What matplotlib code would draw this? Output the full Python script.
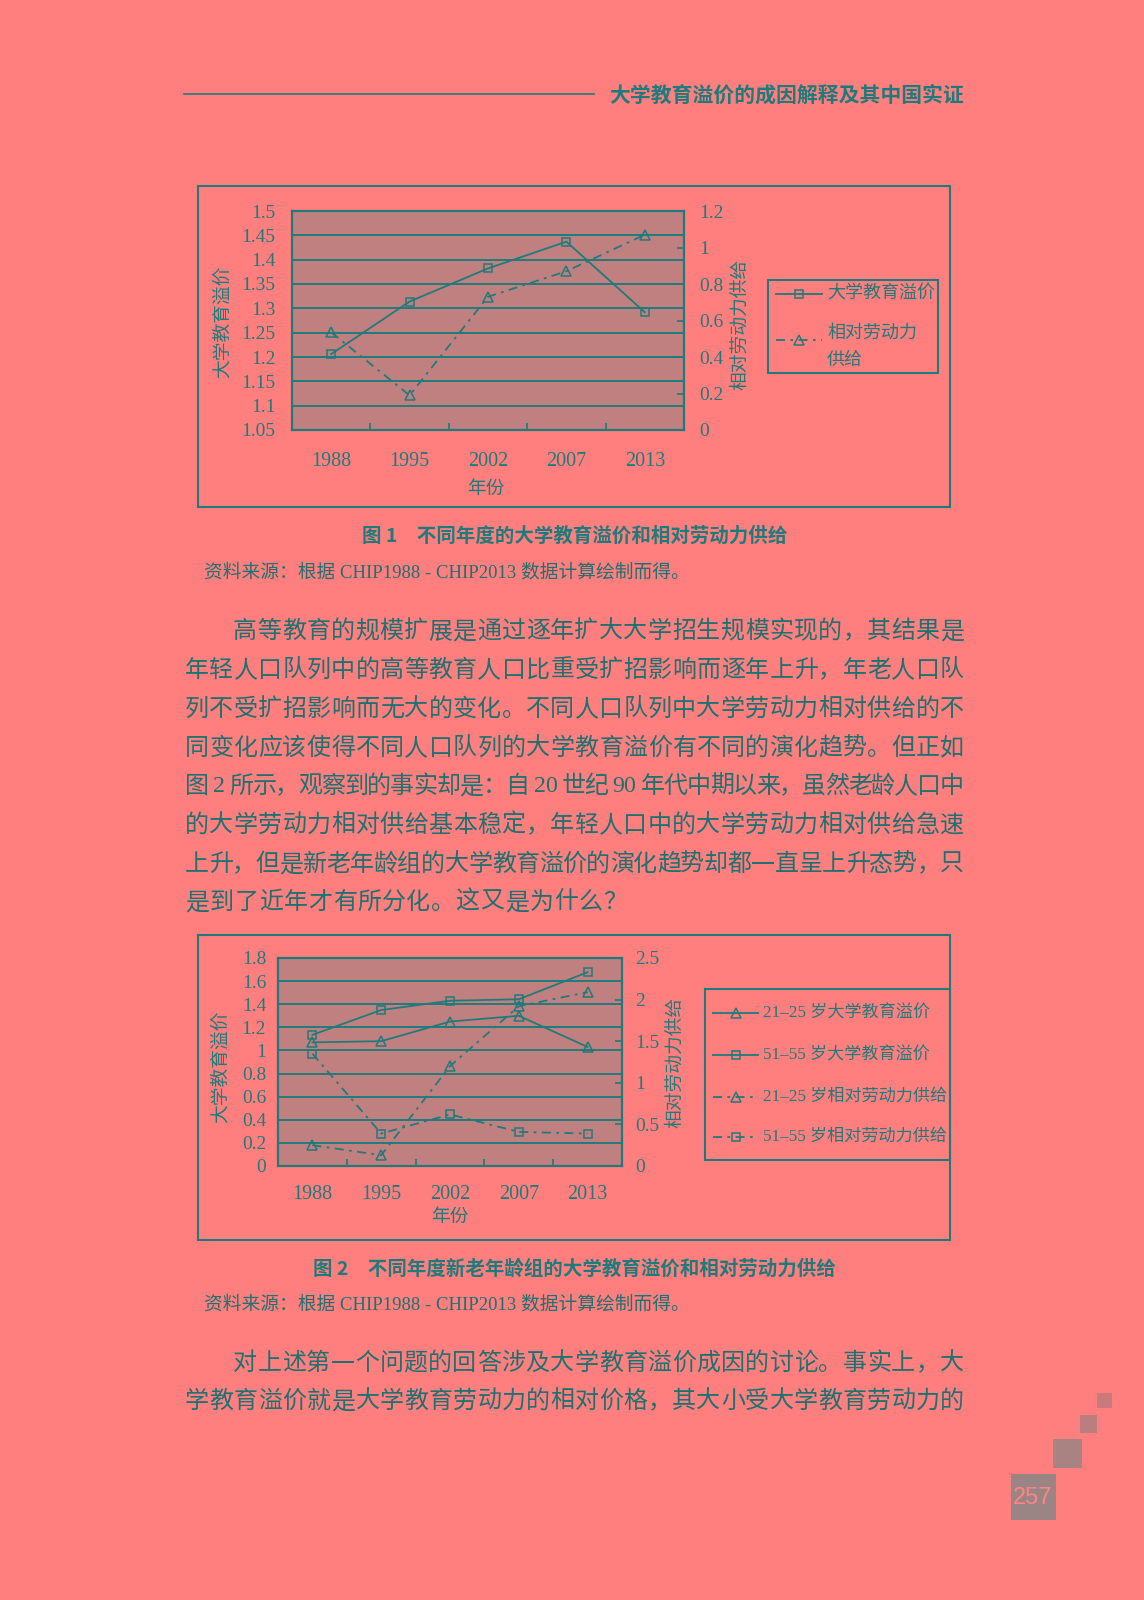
import re
import matplotlib
matplotlib.use('Agg')
import matplotlib.pyplot as plt
from matplotlib.patches import Rectangle
from matplotlib.lines import Line2D

W, H = 1144, 1600
BG = '#FF7F7F'
TEAL = '#1F7B7B'
INK = '#1E7171'
PLOTBG = '#C08080'
CJK = 'Noto Sans CJK SC'
SERIF = ['Liberation Serif', CJK]

# 数据
years = ['1988', '1995', '2002', '2007', '2013']
# 图1
premium = [1.206, 1.314, 1.382, 1.437, 1.292]
supply = [0.535, 0.19, 0.73, 0.87, 1.07]
# 图2
prem_young = [1.07, 1.08, 1.25, 1.30, 1.03]
prem_old = [1.135, 1.35, 1.43, 1.443, 1.677]
supply_young = [0.25, 0.13, 1.20, 1.92, 2.09]
supply_old = [1.35, 0.39, 0.62, 0.41, 0.39]

left1 = [1.05, 1.1, 1.15, 1.2, 1.25, 1.3, 1.35, 1.4, 1.45, 1.5]
right1 = [0, 0.2, 0.4, 0.6, 0.8, 1, 1.2]
left2 = [0, 0.2, 0.4, 0.6, 0.8, 1, 1.2, 1.4, 1.6, 1.8]
right2 = [0, 0.5, 1, 1.5, 2, 2.5]

header = '大学教育溢价的成因解释及其中国实证'
para1 = ['高等教育的规模扩展是通过逐年扩大大学招生规模实现的，其结果是',
         '年轻人口队列中的高等教育人口比重受扩招影响而逐年上升，年老人口队',
         '列不受扩招影响而无大的变化。不同人口队列中大学劳动力相对供给的不',
         '同变化应该使得不同人口队列的大学教育溢价有不同的演化趋势。但正如',
         '图 2 所示，观察到的事实却是：自 20 世纪 90 年代中期以来，虽然老龄人口中',
         '的大学劳动力相对供给基本稳定，年轻人口中的大学劳动力相对供给急速',
         '上升，但是新老年龄组的大学教育溢价的演化趋势却都一直呈上升态势，只',
         '是到了近年才有所分化。这又是为什么？']
para2 = ['对上述第一个问题的回答涉及大学教育溢价成因的讨论。事实上，大',
         '学教育溢价就是大学教育劳动力的相对价格，其大小受大学教育劳动力的']
source = '资料来源：根据 CHIP1988 - CHIP2013 数据计算绘制而得。'

fig = plt.figure(figsize=(W / 100, H / 100), dpi=100)
fig.patch.set_facecolor(BG)


def fx(x):
    return x / W


def fy(y):
    return 1 - y / H


def box(x0, y0, x1, y1):
    return [fx(x0), fy(y1), (x1 - x0) / W, (y1 - y0) / H]


def txt(x, y, s, size, family=CJK, color=INK, **kw):
    return fig.text(fx(x), fy(y), s, fontsize=size, family=family, color=color, **kw)


def hline(x0, x1, y, **kw):
    fig.add_artist(Line2D([fx(x0), fx(x1)], [fy(y), fy(y)], transform=fig.transFigure, **kw))


def rect(x0, y0, x1, y1, **kw):
    fig.add_artist(Rectangle((fx(x0), fy(y1)), (x1 - x0) / W, (y1 - y0) / H,
                             transform=fig.transFigure, **kw))


def body_line(s, y, x0=185, x1=964, indent=0, justify=True, size=17.3):
    # 两端对齐: 每个汉字单独放置
    r = fig.canvas.get_renderer()
    em = size * 100 / 72
    items = []
    for t in re.findall(r'[A-Za-z0-9.]+| |.', s):
        if t == ' ':
            items.append((None, em * 0.25))
            continue
        fam = SERIF if t.isascii() else CJK
        tx = txt(0, y, t, size, family=fam, va='center', ha='left')
        items.append((tx, tx.get_window_extent(r).width))
    start = x0 + indent * em
    total = sum(w for _, w in items)
    gap = (x1 - start - total) / (len(items) - 1) if justify else 0.6
    x = start
    for tx, w in items:
        if tx is not None:
            tx.set_x(fx(x))
        x += w + gap


def setup_axes(rect_px, ylim_l, ticks_l, ylim_r, ticks_r, pad_l, pad_r, pad_x):
    ax = fig.add_axes(box(*rect_px))
    ax.set_facecolor(PLOTBG)
    ax.set_xlim(-0.5, 4.5)
    ax.set_ylim(*ylim_l)
    ax.set_yticks(ticks_l)
    ax.set_yticklabels([format(round(v, 2), 'g') for v in ticks_l])
    ax.set_xticks(range(len(years)))
    ax.set_xticklabels(years)
    ax.set_xticks([0.5, 1.5, 2.5, 3.5], minor=True)
    ax.tick_params(axis='y', length=0, pad=pad_l, labelsize=14, labelcolor=TEAL)
    ax.tick_params(axis='x', which='major', length=0, pad=pad_x, labelsize=14.5, labelcolor=TEAL)
    ax.tick_params(axis='x', which='minor', direction='in', length=5, width=1.2, color=TEAL)
    for lab in ax.get_xticklabels() + ax.get_yticklabels():
        lab.set_family(SERIF)
    ax.grid(axis='y', color=TEAL, lw=1.4)
    ax.set_axisbelow(True)
    ax2 = ax.twinx()
    ax2.set_ylim(*ylim_r)
    ax2.set_yticks(ticks_r)
    ax2.set_yticklabels([format(v, 'g') for v in ticks_r])
    ax2.tick_params(axis='y', direction='in', length=5, width=1.2, color=TEAL,
                    pad=pad_r, labelsize=14, labelcolor=TEAL)
    for lab in ax2.get_yticklabels():
        lab.set_family(SERIF)
    for a in (ax, ax2):
        for sp in a.spines.values():
            sp.set_color(TEAL)
            sp.set_linewidth(1.5)
    return ax, ax2


solid = dict(color=TEAL, lw=1.3, mfc='none', mew=1.1)
dashdot = dict(color=TEAL, lw=1.3, mfc='none', mew=1.1, dashes=(5, 3, 1.5, 3))

# 页眉
hline(184, 594, 93.5, color=TEAL, lw=1.2)
txt(964, 95, header, 15, ha='right', va='center', fontweight='bold', color=TEAL)

# ---------------- 图 1 ----------------
rect(198, 186, 950, 507, fill=False, ec=TEAL, lw=1.5)
ax, ax2 = setup_axes((292, 211, 684, 430), (1.05, 1.5), left1, (0, 1.2), right1, 12, 11, 16)
x = range(len(years))
ax.plot(x, premium, marker='s', ms=5.5, **solid)
ax2.plot(x, supply, marker='^', ms=6.5, **dashdot)
txt(222, 322, '大学教育溢价', 13.5, rotation=90, ha='center', va='center', color=TEAL)
txt(740, 324, '相对劳动力供给', 13.5, rotation=90, ha='center', va='center', color=TEAL)
txt(486, 488, '年份', 13.5, ha='center', va='center', color=TEAL)

# 图例 1
rect(768, 280, 938, 373, fill=False, ec=TEAL, lw=1.5)
fig.add_artist(Line2D([fx(776), fx(799), fx(822)], [fy(294)] * 3, transform=fig.transFigure,
                      marker='s', markevery=[1], ms=5.5, **solid))
fig.add_artist(Line2D([fx(776), fx(799), fx(822)], [fy(340)] * 3, transform=fig.transFigure,
                      marker='^', markevery=[1], ms=6.5, **dashdot))
txt(827, 294, '大学教育溢价', 13, va='center', color=TEAL)
txt(827, 333, '相对劳动力', 13, va='center', color=TEAL)
txt(827, 360, '供给', 13, va='center', color=TEAL)

txt(575, 536, '图 1　不同年度的大学教育溢价和相对劳动力供给', 14, ha='center', va='center',
    fontweight='bold', color=TEAL)
txt(204, 573, source, 13.5, family=SERIF, va='center')

# 正文
ys1 = [631, 670, 709, 748, 786, 825, 864, 902]
for i, (s, y) in enumerate(zip(para1, ys1)):
    body_line(s, y, indent=2 if i == 0 else 0, justify=i < len(para1) - 1)

# ---------------- 图 2 ----------------
rect(198, 935, 950, 1240, fill=False, ec=TEAL, lw=1.5)
ax, ax2 = setup_axes((278, 958, 622, 1166), (0, 1.8), left2, (0, 2.5), right2, 8.5, 9.5, 14)
ax.plot(x, prem_young, marker='^', ms=6.5, **solid)
ax.plot(x, prem_old, marker='s', ms=5.5, **solid)
ax2.plot(x, supply_young, marker='^', ms=6.5, **dashdot)
ax2.plot(x, supply_old, marker='s', ms=5.5, **dashdot)
txt(220, 1067, '大学教育溢价', 13.5, rotation=90, ha='center', va='center', color=TEAL)
txt(675, 1062, '相对劳动力供给', 13.5, rotation=90, ha='center', va='center', color=TEAL)
txt(450, 1216, '年份', 13.5, ha='center', va='center', color=TEAL)

# 图例 2
rect(705, 989, 950, 1160, fill=False, ec=TEAL, lw=1.5)
leg2 = [('21–25 岁大学教育溢价', '^', solid, 1013),
        ('51–55 岁大学教育溢价', 's', solid, 1055),
        ('21–25 岁相对劳动力供给', '^', dashdot, 1097),
        ('51–55 岁相对劳动力供给', 's', dashdot, 1137)]
for label, mk, sty, y in leg2:
    fig.add_artist(Line2D([fx(713), fx(736), fx(758)], [fy(y)] * 3, transform=fig.transFigure,
                          marker=mk, markevery=[1], ms=5.5 if mk == 's' else 6.5, **sty))
    txt(763, y, label, 12.3, family=SERIF, va='center', color=TEAL)

txt(574, 1269, '图 2　不同年度新老年龄组的大学教育溢价和相对劳动力供给', 14, ha='center',
    va='center', fontweight='bold', color=TEAL)
txt(204, 1305, source, 13.5, family=SERIF, va='center')

ys2 = [1363, 1401]
for i, (s, y) in enumerate(zip(para2, ys2)):
    body_line(s, y, indent=2 if i == 0 else 0)

# 页码与装饰方块
rect(1097, 1393, 1112, 1408, color='#C97B7B', lw=0)
rect(1080, 1415, 1097, 1433, color='#B97F7F', lw=0)
rect(1053, 1439, 1082, 1468, color='#A98282', lw=0)
rect(1011, 1474, 1056, 1520, color='#9B8484', lw=0)
txt(1033, 1498, '257', 17, family='Liberation Sans', ha='center', va='center', color='#FF8585')

fig.savefig('out.png', dpi=100, facecolor=BG)
